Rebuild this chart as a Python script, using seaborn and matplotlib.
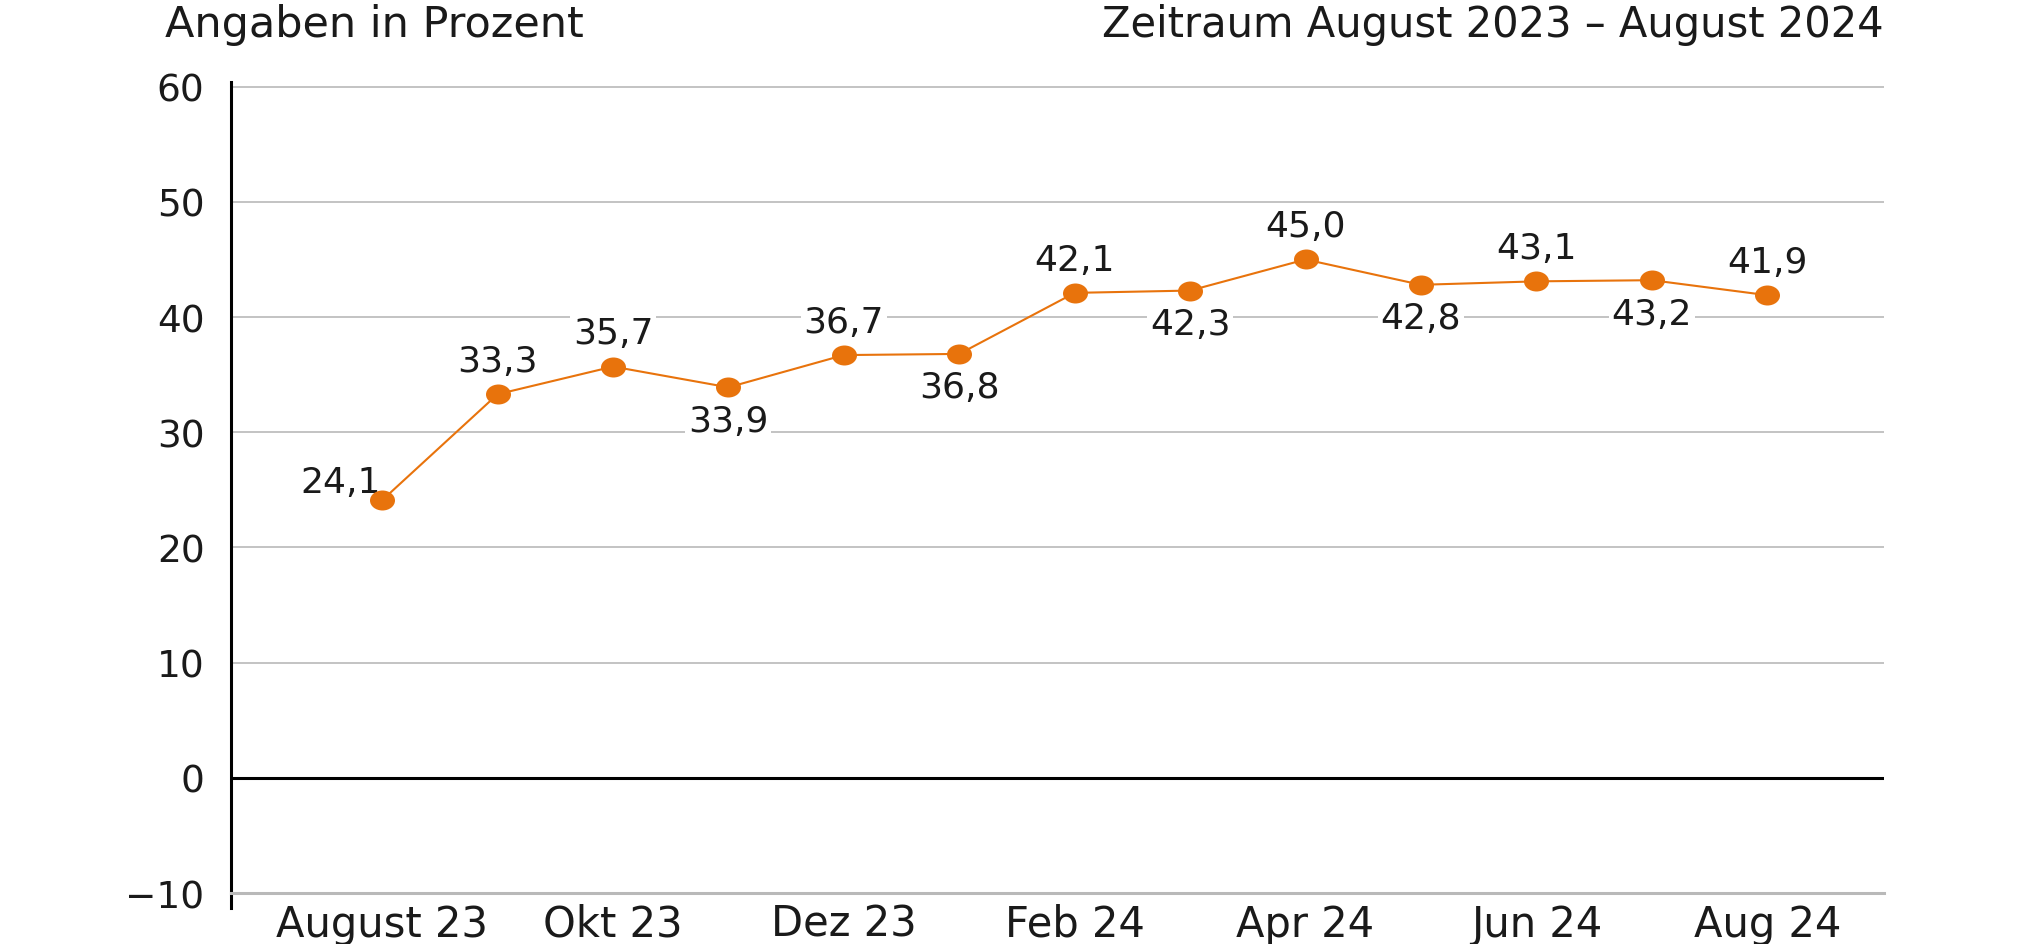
import pandas as pd
import matplotlib.pyplot as plt
import seaborn as sns
from matplotlib.path import Path
from matplotlib.transforms import Affine2D

months = ["August 23", "Sep 23", "Okt 23", "Nov 23", "Dez 23", "Jan 24", "Feb 24",
          "Mär 24", "Apr 24", "Mai 24", "Jun 24", "Jul 24", "Aug 24"]
share = [24.1, 33.3, 35.7, 33.9, 36.7, 36.8, 42.1, 42.3, 45.0, 42.8, 43.1, 43.2, 41.9]
y_ticks = [-10, 0, 10, 20, 30, 40, 50, 60]

# offset of each value label from its point, in points
label_offsets = [(-30, 13), (0, 24), (0, 24), (0, -24), (0, 24), (0, -24), (0, 24),
                 (0, -24), (0, 24), (0, -24), (0, 24), (0, -24), (0, 24)]

ORANGE = "#e8730c"
GRID = "#b9b9b9"
INK = "#1a1a1a"

df = pd.DataFrame({"pos": range(len(months)), "month": months, "share": share})

sns.set_style("white")
plt.rcParams["font.family"] = ["DejaVu Sans"]

fig = plt.figure(figsize=(20.33, 9.45), dpi=100)
ax = fig.add_axes([0.1136, 0.0381, 0.813, 0.874])

for v in y_ticks[2:]:
    ax.axhline(v, color=GRID, lw=1.2, zorder=0)
ax.axhline(0, color="black", lw=2.2, zorder=1)

# slightly flattened dots like in the original
dot = Path.unit_circle().transformed(Affine2D().scale(1.0, 0.8))
sns.lineplot(data=df, x="pos", y="share", color=ORANGE, lw=1.5, marker=dot,
             markersize=18, markeredgewidth=0, ax=ax, zorder=3)

for i, (x, y) in enumerate(zip(df["pos"], df["share"])):
    ax.annotate(f"{y:.1f}".replace(".", ","), (x, y), xytext=label_offsets[i],
                textcoords="offset points", ha="center", va="center", fontsize=26,
                color=INK,
                bbox=dict(boxstyle="square,pad=0.08", fc="white", ec="none"), zorder=2)

ax.set_xlim(-1.31, 13.01)
ax.set_ylim(-11.3, 60.4)

ax.set_yticks(y_ticks)
ax.set_yticklabels([f"{v}".replace("-", "\u2212") for v in y_ticks])
ax.tick_params(axis="y", length=0, pad=19, labelsize=27, labelcolor=INK)

ax.set_xticks(df["pos"])
ax.set_xticklabels([m if i % 2 == 0 else "" for i, m in enumerate(months)])
ax.tick_params(axis="x", direction="in", length=7, width=1.5, color=GRID, pad=7,
               labelsize=30, labelcolor=INK)

ax.set_xlabel("")
ax.set_ylabel("")
for s in ["top", "right"]:
    ax.spines[s].set_visible(False)
ax.spines["left"].set_color("black")
ax.spines["left"].set_linewidth(2.2)
ax.spines["bottom"].set_position(("data", -10))
ax.spines["bottom"].set_color(GRID)
ax.spines["bottom"].set_linewidth(2.2)

fig.text(165 / 2033, 1 - 25 / 945, "Angaben in Prozent", ha="left", va="center",
         fontsize=31, color=INK)
fig.text(1884 / 2033, 1 - 25 / 945, "Zeitraum August 2023 \u2013 August 2024", ha="right",
         va="center", fontsize=30, color=INK)

fig.savefig("out.png", dpi=100)
